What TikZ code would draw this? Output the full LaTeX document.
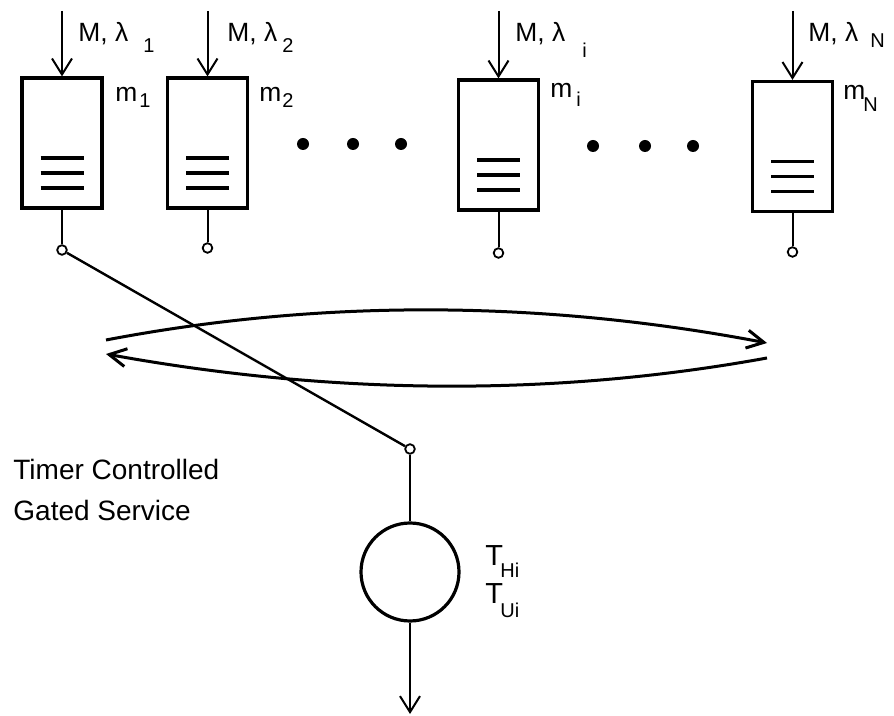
\documentclass[tikz,border=0pt]{standalone}
\usepackage{fontspec}
\setmainfont{Liberation Sans}
\usetikzlibrary{arrows.meta,calc}
\begin{document}
\begin{tikzpicture}[x=0.5pt,y=-0.5pt,
  qbox/.style={draw,line width=1.6pt,minimum width=40pt,minimum height=65pt,inner sep=0pt},
  qline/.style={line width=1.8pt},
  stem/.style={line width=1pt},
  port/.style={draw,circle,line width=0.9pt,minimum size=4.8pt,inner sep=0pt,fill=white},
  vtip/.style={-{Straight Barb[length=8pt,width=10pt,line width=1pt]}},
  inarrow/.style={line width=1pt,vtip},
  arcarrow/.style={line width=1.5pt,-{Straight Barb[length=8.5pt,width=9pt,line width=1.5pt]}},
  swline/.style={line width=1.2pt},
  dotn/.style={circle,fill,minimum size=6pt,inner sep=0pt},
  server/.style={draw,circle,line width=1.6pt,minimum size=49pt,inner sep=0pt},
  lbl/.style={font=\fontsize{13.2}{15}\selectfont,inner sep=0pt,anchor=base west},
  sublbl/.style={font=\fontsize{10}{11}\selectfont,inner sep=0pt,anchor=base west},
  tlbl/.style={font=\fontsize{14.5}{16}\selectfont,inner sep=0pt,anchor=base west},
  txt/.style={font=\fontsize{14}{16}\selectfont,inner sep=0pt,anchor=base west}]
\useasboundingbox (0,0) rectangle (894,716);

% queues
\foreach \n/\x/\y/\cy in {1/62/143/250, 2/207.5/143/248, i/498.5/145/253, N/792.5/146.5/252}{
  \node[qbox] (b\n) at (\x,\y) {};
  \draw[qline] ($(b\n.center)+(-21.5,15)$) -- ($(b\n.center)+(21.5,15)$);
  \draw[qline] ($(b\n.center)+(-21.5,30)$) -- ($(b\n.center)+(21.5,30)$);
  \draw[qline] ($(b\n.center)+(-21.5,45)$) -- ($(b\n.center)+(21.5,45)$);
  \coordinate (in\n) at (\x,11);
  \draw[inarrow] (in\n) -- (b\n.north);
  \node[port] (c\n) at (\x,\cy) {};
  \draw[stem] (b\n.south) -- (c\n.north);
}

% arrival labels
\node[lbl] (la1) at (78,42) {M, λ};
\node[sublbl] (sa1) at (143,53) {1};
\node[lbl] (la2) at (227,42) {M, λ};
\node[sublbl] (sa2) at (282,53) {2};
\node[lbl] (lai) at (515,42) {M, λ};
\node[sublbl] (sai) at (582,58) {i};
\node[lbl] (laN) at (808,42) {M, λ};
\node[sublbl] (saN) at (870,48) {N};

% buffer labels
\node[lbl] (lm1) at (115,102) {m};
\node[sublbl] (sm1) at (139,108) {1};
\node[lbl] (lm2) at (259,102) {m};
\node[sublbl] (sm2) at (282,108) {2};
\node[lbl] (lmi) at (550,98) {m};
\node[sublbl] (smi) at (576,107) {i};
\node[lbl] (lmN) at (843,100) {m};
\node[sublbl] (smN) at (863,112) {N};

% dots
\node[dotn] (d1) at (303,144) {};
\node[dotn] (d2) at (353,144) {};
\node[dotn] (d3) at (401,144) {};
\node[dotn] (d4) at (593,146) {};
\node[dotn] (d5) at (645,146) {};
\node[dotn] (d6) at (693,146) {};

% cycling arcs
\coordinate (a1) at (106,340);
\coordinate (a2) at (767,343);
\coordinate (a3) at (767,358);
\coordinate (a4) at (106,354);
\draw[arcarrow] (a1) .. controls (326,298) and (547,301) .. (a2);
\draw[arcarrow] (a3) .. controls (547,398) and (326,394) .. (a4);

% switch
\node[port] (cs) at (410,449) {};
\draw[swline] (c1) -- (cs);

% server
\node[server] (srv) at (410,572) {};
\draw[stem] (cs.south) -- (srv.north);
\coordinate (out) at (410,714);
\draw[inarrow] (srv.south) -- (out);

\node[tlbl] (th) at (485,565) {T};
\node[sublbl] (sh) at (500,577) {Hi};
\node[tlbl] (tu) at (485,603) {T};
\node[sublbl] (su) at (500,617) {Ui};

\node[txt] (t1) at (13,480) {Timer Controlled};
\node[txt] (t2) at (13,520) {Gated Service};
\end{tikzpicture}
\end{document}
